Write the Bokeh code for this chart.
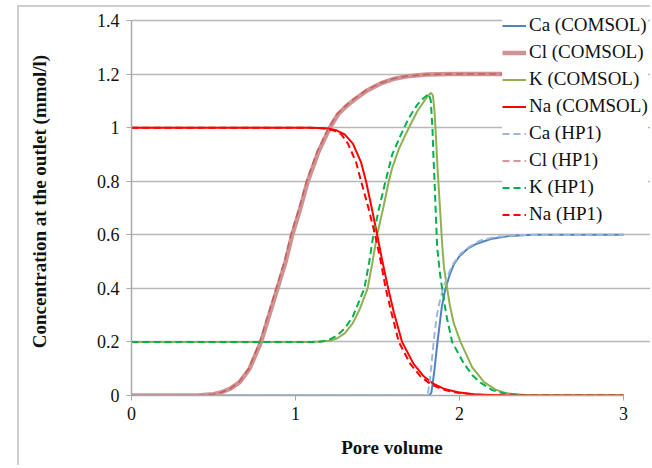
from bokeh.plotting import figure
from bokeh.models import Legend, LegendItem, Range1d, FixedTicker
from bokeh.embed import file_html
from bokeh.resources import INLINE

# ---------------- data ----------------
ca_comsol_x = [0, 1.815, 1.828, 1.838, 1.848, 1.857, 1.866, 1.878, 1.892, 1.915, 1.94, 1.966, 2.0, 2.05, 2.10, 2.19, 2.30, 2.45, 3.0]
ca_comsol_y = [0, 0, 0.01, 0.05, 0.10, 0.15, 0.20, 0.26, 0.33, 0.40, 0.45, 0.49, 0.52, 0.548, 0.565, 0.584, 0.595, 0.6, 0.6]

cl_comsol_x = [0, 0.40, 0.50, 0.55, 0.60, 0.66, 0.72, 0.79, 0.84, 0.89, 0.94, 0.98, 1.03, 1.075, 1.14, 1.21, 1.26, 1.31, 1.36, 1.44, 1.52, 1.60, 1.68, 1.80, 1.95, 3.0]
cl_comsol_y = [0, 0, 0.005, 0.012, 0.025, 0.05, 0.10, 0.20, 0.30, 0.40, 0.50, 0.60, 0.70, 0.80, 0.91, 1.00, 1.05, 1.08, 1.105, 1.14, 1.165, 1.182, 1.192, 1.198, 1.2, 1.2]

k_comsol_x = [0, 1.10, 1.20, 1.25, 1.30, 1.35, 1.39, 1.44, 1.47, 1.498, 1.535, 1.569, 1.59, 1.63, 1.66, 1.70, 1.742, 1.78, 1.81, 1.827, 1.838, 1.848, 1.857, 1.866, 1.875, 1.885, 1.895, 1.905, 1.925, 1.94, 1.965, 2.006, 2.077, 2.15, 2.22, 2.29, 2.40, 2.50, 3.0]
k_comsol_y = [0.2, 0.2, 0.203, 0.212, 0.232, 0.27, 0.32, 0.40, 0.50, 0.60, 0.70, 0.80, 0.85, 0.92, 0.96, 1.01, 1.06, 1.095, 1.12, 1.13, 1.12, 1.06, 0.96, 0.85, 0.76, 0.66, 0.56, 0.48, 0.40, 0.34, 0.27, 0.20, 0.106, 0.05, 0.022, 0.008, 0.002, 0, 0]

na_comsol_x = [0, 1.10, 1.20, 1.25, 1.30, 1.35, 1.40, 1.43, 1.465, 1.498, 1.53, 1.565, 1.60, 1.65, 1.72, 1.78, 1.84, 1.91, 1.99, 2.10, 2.30, 3.0]
na_comsol_y = [1.0, 1.0, 0.997, 0.99, 0.975, 0.94, 0.87, 0.80, 0.70, 0.60, 0.50, 0.40, 0.31, 0.20, 0.118, 0.073, 0.044, 0.024, 0.012, 0.004, 0, 0]

ca_hp1_x = [0, 1.795, 1.808, 1.818, 1.828, 1.838, 1.848, 1.86, 1.875, 1.90, 1.93, 1.96, 2.006, 2.06, 2.128, 2.22, 2.35, 3.0]
ca_hp1_y = [0, 0, 0.01, 0.05, 0.11, 0.17, 0.23, 0.29, 0.34, 0.40, 0.45, 0.49, 0.529, 0.555, 0.579, 0.592, 0.599, 0.6]

cl_hp1_x = [0, 0.40, 0.50, 0.55, 0.60, 0.655, 0.715, 0.782, 0.832, 0.882, 0.932, 0.972, 1.022, 1.067, 1.132, 1.202, 1.252, 1.302, 1.352, 1.432, 1.512, 1.592, 1.672, 1.792, 1.942, 3.0]
cl_hp1_y = [0, 0, 0.005, 0.012, 0.025, 0.05, 0.10, 0.20, 0.30, 0.40, 0.50, 0.60, 0.70, 0.80, 0.91, 1.00, 1.05, 1.08, 1.105, 1.14, 1.165, 1.182, 1.192, 1.198, 1.2, 1.2]

k_hp1_x = [0, 1.10, 1.15, 1.20, 1.25, 1.30, 1.35, 1.38, 1.42, 1.45, 1.475, 1.51, 1.549, 1.59, 1.64, 1.69, 1.742, 1.78, 1.813, 1.825, 1.835, 1.842, 1.848, 1.856, 1.864, 1.88, 1.894, 1.92, 1.955, 2.026, 2.08, 2.128, 2.20, 2.27, 2.40, 3.0]
k_hp1_y = [0.2, 0.2, 0.201, 0.207, 0.222, 0.25, 0.295, 0.34, 0.40, 0.50, 0.60, 0.70, 0.80, 0.90, 0.97, 1.035, 1.085, 1.11, 1.126, 1.10, 1.00, 0.88, 0.80, 0.67, 0.553, 0.46, 0.40, 0.30, 0.20, 0.12, 0.075, 0.048, 0.02, 0.008, 0, 0]

na_hp1_x = [0, 1.08, 1.18, 1.23, 1.28, 1.32, 1.37, 1.40, 1.445, 1.485, 1.52, 1.55, 1.585, 1.63, 1.70, 1.76, 1.82, 1.89, 1.97, 2.08, 2.28, 3.0]
na_hp1_y = [1.0, 1.0, 0.997, 0.99, 0.975, 0.94, 0.87, 0.80, 0.70, 0.60, 0.50, 0.40, 0.31, 0.20, 0.118, 0.073, 0.044, 0.024, 0.012, 0.004, 0, 0]

series_names = ["Ca (COMSOL)", "Cl (COMSOL)", "K (COMSOL)", "Na (COMSOL)",
                "Ca (HP1)", "Cl (HP1)", "K (HP1)", "Na (HP1)"]

x_ticks = [0, 1, 2, 3]
y_ticks = [0, 0.2, 0.4, 0.6, 0.8, 1, 1.2, 1.4]
y_tick_labels = ["0", "0.2", "0.4", "0.6", "0.8", "1", "1.2", "1.4"]

x_title = "Pore volume"
y_title = "Concentration at the outlet (mmol/l)"

# ---------------- figure ----------------
# frame spans the whole right/top area so the legend is not clipped;
# axes and grid are bounded to the data ranges 0..3 and 0..1.4
p = figure(width=633, height=460, output_backend="svg", toolbar_location=None,
           x_range=Range1d(0, 3.177), y_range=Range1d(0, 1.4485),
           min_border_left=112, min_border_right=0, min_border_top=0, min_border_bottom=72)
p.margin = (5, 0, 0, 17)
p.styles = {"border-left": "2px solid #CFCFCF", "border-top": "2px solid #CFCFCF"}
p.outline_line_color = None
p.background_fill_color = "white"
p.border_fill_color = "white"

p.xgrid.visible = False
p.ygrid.grid_line_color = "#B8B8B8"
p.ygrid.grid_line_width = 1.5
p.ygrid.bounds = (x_ticks[0], x_ticks[-1])

SERIF = "Liberation Serif"
for ax in (p.xaxis, p.yaxis):
    ax.axis_line_color = "#A8A8A8"
    ax.axis_line_width = 1.5
    ax.major_tick_line_color = "#A8A8A8"
    ax.major_tick_out = 5
    ax.major_tick_in = 0
    ax.minor_tick_line_color = None
    ax.major_label_text_font = SERIF
    ax.major_label_text_font_size = "18px"
    ax.major_label_text_color = "#111111"
    ax.axis_label_text_font = SERIF
    ax.axis_label_text_font_style = "bold"
    ax.axis_label_text_font_size = "19px"
    ax.axis_label_text_color = "#111111"

p.xaxis.bounds = (x_ticks[0], x_ticks[-1])
p.yaxis.bounds = (y_ticks[0], y_ticks[-1])
p.xaxis.ticker = FixedTicker(ticks=x_ticks)
p.yaxis.ticker = FixedTicker(ticks=y_ticks)
p.yaxis.major_label_overrides = {t: l for t, l in zip(y_ticks, y_tick_labels)}
p.xaxis.major_label_standoff = 6
p.yaxis.major_label_standoff = 7
p.xaxis.axis_label = x_title
p.yaxis.axis_label = y_title
p.xaxis.axis_label_standoff = 14
p.yaxis.axis_label_standoff = 44

r_ca = p.line(ca_comsol_x, ca_comsol_y, line_color="#4F81BD", line_width=2)
r_cl = p.line(cl_comsol_x, cl_comsol_y, line_color="#D09393", line_width=4.5)
r_k = p.line(k_comsol_x, k_comsol_y, line_color="#8FB050", line_width=2)
r_na = p.line(na_comsol_x, na_comsol_y, line_color="#FF0000", line_width=2)
r_ca2 = p.line(ca_hp1_x, ca_hp1_y, line_color="#9DB7DB", line_width=2, line_dash="7 4")
r_cl2 = p.line(cl_hp1_x, cl_hp1_y, line_color="#C0504D", line_alpha=0.8, line_width=1.5, line_dash="7 4")
r_k2 = p.line(k_hp1_x, k_hp1_y, line_color="#00B050", line_width=2, line_dash="7 4")
r_na2 = p.line(na_hp1_x, na_hp1_y, line_color="#FF0000", line_width=2, line_dash="7 4")

renderers = [r_ca, r_cl, r_k, r_na, r_ca2, r_cl2, r_k2, r_na2]
legend = Legend(items=[LegendItem(label=n, renderers=[r]) for n, r in zip(series_names, renderers)],
                location=(371, 170))
legend.background_fill_color = "white"
legend.background_fill_alpha = 1.0
legend.border_line_color = None
legend.padding = 5
legend.margin = 0
legend.spacing = 5
legend.glyph_width = 24
legend.glyph_height = 21
legend.label_height = 21
legend.label_standoff = 3
legend.label_text_font = SERIF
legend.label_text_font_size = "19px"
legend.label_text_color = "#111111"
p.add_layout(legend)

open("out.html", "w").write(file_html(p, INLINE))
